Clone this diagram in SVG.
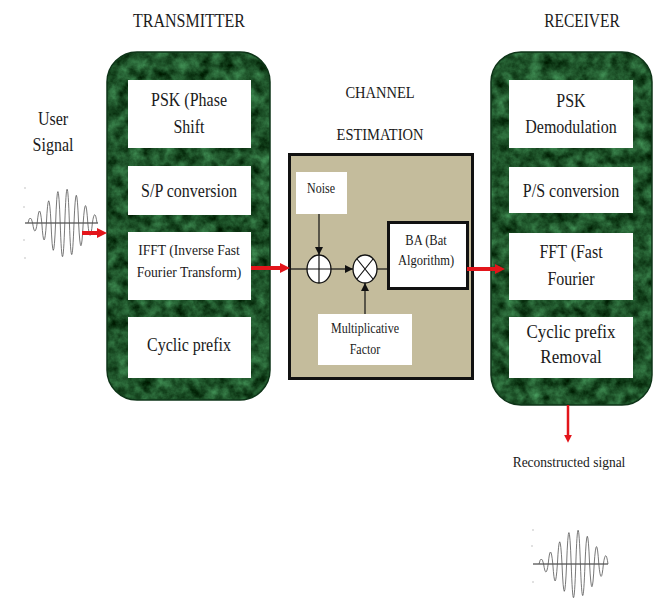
<svg xmlns="http://www.w3.org/2000/svg" xmlns:xlink="http://www.w3.org/1999/xlink" width="654" height="598" viewBox="0 0 654 598">
  <style>
    .t { font-family: "Liberation Serif", "Times New Roman", serif; fill: #1a1a1a; text-anchor: middle; }
    .panel { fill: #1f5a30; filter: url(#marble); }
    .panelEdge { fill: none; stroke: #0e3418; stroke-width: 1.5; }
    .block { fill: #ffffff; }
    .channel { fill: #c4bc9c; stroke: #111; stroke-width: 3; }
    .op { fill: #ffffff; stroke: #111; stroke-width: 1.3; }
    .thin { stroke: #111; stroke-width: 1.2; fill: none; }
    .red { stroke: #e3151b; stroke-width: 4; fill: none; }
    .wave { fill: none; stroke: #555; stroke-width: 0.8; }
    .axis { stroke: #222; stroke-width: 1; }
    .dot { fill: #bbb; }
  </style>
  <defs>
    <filter id="marble" x="0" y="0" width="100%" height="100%" color-interpolation-filters="sRGB">
      <feTurbulence type="fractalNoise" baseFrequency="0.085" numOctaves="4" seed="7" result="noise"/>
      <feColorMatrix in="noise" type="matrix" values="0.36 0 0 0 -0.06  0.62 0 0 0 0.02  0.45 0 0 0 -0.06  0 0 0 0 1" result="green"/>
      <feComposite in="green" in2="SourceGraphic" operator="in"/>
    </filter>
    <marker id="redHead" viewBox="0 0 10 10" refX="4" refY="5" markerWidth="10" markerHeight="11" markerUnits="userSpaceOnUse" orient="auto">
      <path d="M0,0 L10,5 L0,10 Z" fill="#e3151b"/>
    </marker>
    <marker id="redHeadSm" viewBox="0 0 10 10" refX="4" refY="5" markerWidth="8" markerHeight="8" markerUnits="userSpaceOnUse" orient="auto">
      <path d="M0,0 L10,5 L0,10 Z" fill="#e3151b"/>
    </marker>
    <marker id="blackHead" viewBox="0 0 10 10" refX="10" refY="5" markerWidth="8" markerHeight="8" markerUnits="userSpaceOnUse" orient="auto">
      <path d="M0,0 L10,5 L0,10 Z" fill="#111"/>
    </marker>
    <!-- modulated burst waveform -->
    <path id="burst" d="M28,223 Q30.3,213 32.6,223 Q34.9,239 37.2,223 Q39.5,199 41.8,223 Q44.1,256.8 46.4,223 Q48.7,178.6 51,223 Q53.3,277.6 55.6,223 Q57.9,160.2 60.2,223 Q62.5,290.4 64.8,223 Q67.1,155.4 69.4,223 Q71.7,286.2 74,223 Q76.3,167.6 78.6,223 Q80.9,268.4 83.2,223 Q85.5,188.2 87.8,223 Q90.1,247.8 92.4,223 Q94.7,206.4 97,223"/>
  </defs>

  <rect width="654" height="598" fill="#ffffff"/>

  <!-- input signal -->
  <g id="user-signal">
    <text class="t" style="font-size:16px" transform="translate(53 125) scale(1 1.15)">User</text>
    <text class="t" style="font-size:16px" transform="translate(53 151) scale(1 1.15)">Signal</text>
    <line class="axis" x1="25" y1="223" x2="98" y2="223"/>
    <use xlink:href="#burst" class="wave"/>
    <circle class="dot" cx="25" cy="188" r="0.8"/>
    <circle class="dot" cx="24" cy="207" r="0.8"/>
    <circle class="dot" cx="24" cy="240" r="0.8"/>
    <circle class="dot" cx="25" cy="258" r="0.8"/>
  </g>

  <!-- transmitter -->
  <g id="transmitter">
    <text class="t" style="font-size:16px" transform="translate(189 27) scale(1 1.15)">TRANSMITTER</text>
    <rect class="panel" x="107" y="52" width="163" height="348" rx="30"/>
    <rect class="panelEdge" x="107" y="52" width="163" height="348" rx="30"/>
  </g>
  <g id="tx-psk">
    <rect class="block" x="128" y="80" width="123" height="68"/>
    <text class="t" style="font-size:16px" transform="translate(189 106) scale(1 1.15)">PSK (Phase</text>
    <text class="t" style="font-size:16px" transform="translate(189 133) scale(1 1.15)">Shift</text>
  </g>
  <g id="tx-sp">
    <rect class="block" x="128" y="166" width="123" height="49"/>
    <text class="t" style="font-size:16px" transform="translate(189 197) scale(1 1.15)">S/P conversion</text>
  </g>
  <g id="tx-ifft">
    <rect class="block" x="128" y="232" width="123" height="68"/>
    <text class="t" style="font-size:13.6px" transform="translate(189 255) scale(1 1.15)">IFFT (Inverse Fast</text>
    <text class="t" style="font-size:13.6px" transform="translate(189 277) scale(1 1.15)">Fourier Transform)</text>
  </g>
  <g id="tx-cp">
    <rect class="block" x="128" y="317" width="123" height="61"/>
    <text class="t" style="font-size:16px" transform="translate(189 351) scale(1 1.15)">Cyclic prefix</text>
  </g>

  <!-- channel estimation -->
  <g id="channel">
    <text class="t" style="font-size:14.5px" transform="translate(380 98) scale(1 1.15)">CHANNEL</text>
    <text class="t" style="font-size:14.5px" transform="translate(380 140) scale(1 1.15)">ESTIMATION</text>
    <rect class="channel" x="289.5" y="154.5" width="183" height="224"/>
  </g>
  <g id="noise">
    <rect class="block" x="296" y="172" width="51" height="42"/>
    <text class="t" style="font-size:12px" transform="translate(321 193) scale(1 1.15)">Noise</text>
  </g>
  <g id="adder">
    <ellipse class="op" cx="319" cy="269" rx="12" ry="14"/>
    <path class="thin" d="M307,269 H331 M319,255 V283"/>
  </g>
  <g id="multiplier">
    <ellipse class="op" cx="365" cy="269" rx="12" ry="14"/>
    <path class="thin" d="M357,259 L373,279 M373,259 L357,279"/>
  </g>
  <g id="bat-algorithm">
    <rect x="388.5" y="222.5" width="79" height="66" fill="#ffffff" stroke="#111" stroke-width="3"/>
    <text class="t" style="font-size:12.5px" transform="translate(426 245) scale(1 1.15)">BA (Bat</text>
    <text class="t" style="font-size:12.5px" transform="translate(426 265) scale(1 1.15)">Algorithm)</text>
  </g>
  <g id="mult-factor">
    <rect class="block" x="318" y="314" width="94" height="51"/>
    <text class="t" style="font-size:12px" transform="translate(365 333) scale(1 1.15)">Multiplicative</text>
    <text class="t" style="font-size:12px" transform="translate(365 354) scale(1 1.15)">Factor</text>
  </g>

  <!-- receiver -->
  <g id="receiver">
    <text class="t" style="font-size:15.5px" transform="translate(582 27) scale(1 1.15)">RECEIVER</text>
    <rect class="panel" x="491" y="52" width="161" height="353" rx="30"/>
    <rect class="panelEdge" x="491" y="52" width="161" height="353" rx="30"/>
  </g>
  <g id="rx-psk">
    <rect class="block" x="509" y="80" width="124" height="68"/>
    <text class="t" style="font-size:16px" transform="translate(571 107) scale(1 1.15)">PSK</text>
    <text class="t" style="font-size:16px" transform="translate(571 133) scale(1 1.15)">Demodulation</text>
  </g>
  <g id="rx-ps">
    <rect class="block" x="509" y="167" width="124" height="46"/>
    <text class="t" style="font-size:16px" transform="translate(571 197) scale(1 1.15)">P/S conversion</text>
  </g>
  <g id="rx-fft">
    <rect class="block" x="509" y="233" width="124" height="67"/>
    <text class="t" style="font-size:16px" transform="translate(571 258) scale(1 1.15)">FFT (Fast</text>
    <text class="t" style="font-size:16px" transform="translate(571 285) scale(1 1.15)">Fourier</text>
  </g>
  <g id="rx-cp">
    <rect class="block" x="509" y="317" width="124" height="61"/>
    <text class="t" style="font-size:17px" transform="translate(571 338) scale(1 1.15)">Cyclic prefix</text>
    <text class="t" style="font-size:17px" transform="translate(571 363) scale(1 1.15)">Removal</text>
  </g>

  <!-- output signal -->
  <g id="output-signal">
    <text class="t" style="font-size:13.5px" transform="translate(569 467) scale(1 1.15)">Reconstructed signal</text>
    <line class="axis" x1="533" y1="564" x2="608" y2="564"/>
    <use xlink:href="#burst" class="wave" transform="translate(511 341)"/>
    <circle class="dot" cx="533" cy="530" r="0.8"/>
    <circle class="dot" cx="532" cy="546" r="0.8"/>
    <circle class="dot" cx="533" cy="582" r="0.8"/>
  </g>

  <!-- connectors -->
  <g id="connectors">
    <line class="red" x1="82" y1="233" x2="101" y2="233" marker-end="url(#redHead)"/>
    <line class="red" x1="251" y1="268" x2="284" y2="268" marker-end="url(#redHead)"/>
    <line class="thin" x1="291" y1="269" x2="307" y2="269"/>
    <line class="thin" x1="319" y1="214" x2="319" y2="255" marker-end="url(#blackHead)"/>
    <line class="thin" x1="331" y1="269" x2="353" y2="269" marker-end="url(#blackHead)"/>
    <line class="thin" x1="377" y1="269" x2="388" y2="269"/>
    <line class="thin" x1="365" y1="314" x2="365" y2="283" marker-end="url(#blackHead)"/>
    <line class="red" x1="467" y1="269" x2="499" y2="269" marker-end="url(#redHead)"/>
    <line class="red" style="stroke-width:2.5" x1="568" y1="405" x2="568" y2="438" marker-end="url(#redHeadSm)"/>
  </g>
</svg>
